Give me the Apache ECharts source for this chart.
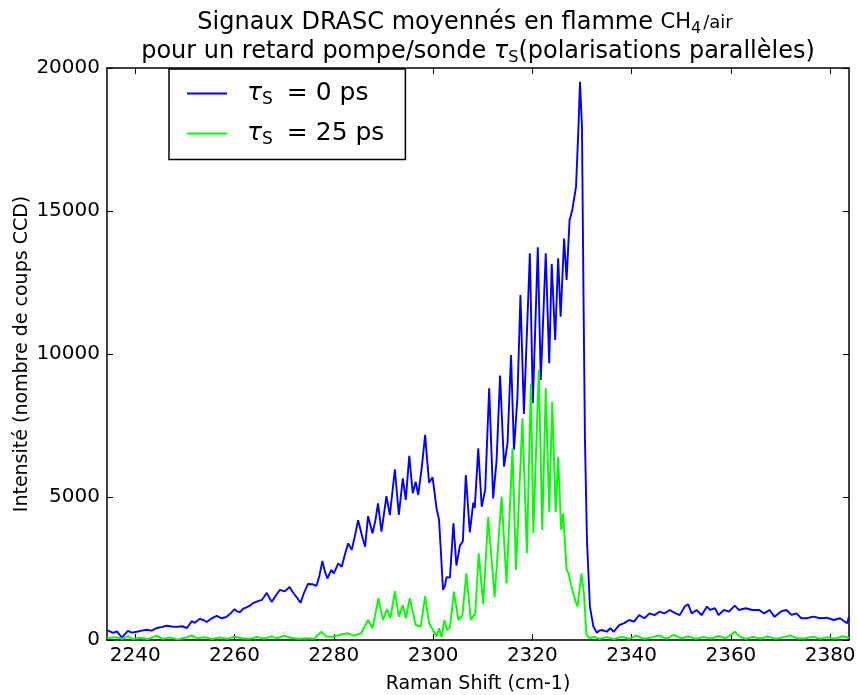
<!DOCTYPE html>
<html>
<head>
<meta charset="utf-8">
<script src="https://cdn.jsdelivr.net/npm/echarts@6/dist/echarts.min.js"></script>
<style>
html, body { margin: 0; padding: 0; background: #fff; }
#chart { width: 857px; height: 695px; }
</style>
</head>
<body>
<div id="chart"></div>
<script>
// Averaged CARS spectra in a CH4/air flame, two pump/probe delays.
const xTicks = [2240, 2260, 2280, 2300, 2320, 2340, 2360, 2380];
const yTicks = [0, 5000, 10000, 15000, 20000];

// tau_S = 0 ps : Raman shift (cm-1) and CCD counts
const shift0ps = [2234.3,2235.5,2236.3,2237.3,2238.5,2239.3,2240.3,2241.3,2242.3,2243.3,2244.3,2245.3,2246.3,2247.3,2248.3,2249.4,2250.4,2251.4,2252.0,2253.0,2253.7,2254.4,2255.4,2256.4,2257.4,2258.4,2259.2,2260.0,2260.5,2261.1,2261.8,2262.5,2263.1,2263.7,2264.6,2265.5,2266.0,2266.5,2267.0,2267.5,2268.3,2269.1,2270.1,2271.1,2271.7,2272.1,2272.7,2273.3,2274.0,2274.8,2275.7,2276.5,2277.1,2277.7,2278.2,2278.7,2279.5,2280.0,2280.9,2281.6,2282.2,2282.9,2283.6,2284.2,2284.9,2285.6,2286.3,2286.9,2287.8,2288.4,2288.9,2289.6,2290.6,2291.3,2292.3,2293.1,2293.9,2294.5,2295.2,2295.9,2296.5,2297.0,2297.7,2298.4,2298.8,2299.2,2299.9,2300.7,2301.2,2301.6,2302.0,2302.4,2302.7,2303.4,2304.1,2304.7,2305.4,2306.0,2306.6,2307.4,2308.1,2308.4,2309.1,2309.8,2310.5,2310.8,2311.3,2312.1,2312.8,2313.5,2314.3,2315.0,2315.7,2316.3,2317.0,2317.6,2318.3,2319.5,2320.1,2321.1,2321.7,2322.7,2323.4,2323.9,2324.6,2325.2,2325.7,2326.4,2326.9,2327.5,2327.7,2328.1,2328.4,2328.8,2329.3,2329.6,2330.0,2330.3,2330.6,2331.0,2331.6,2332.3,2333.0,2333.5,2334.0,2335.0,2335.7,2336.4,2337.5,2338.5,2339.5,2340.5,2341.5,2342.6,2343.6,2344.6,2345.6,2346.6,2347.7,2348.7,2349.7,2350.7,2351.4,2352.1,2353.1,2354.1,2355.2,2355.8,2356.8,2357.5,2358.6,2359.6,2360.8,2361.6,2363.0,2364.3,2365.7,2366.7,2367.8,2368.8,2370.1,2371.2,2372.2,2373.2,2374.2,2375.3,2376.6,2378.0,2379.3,2380.7,2382.0,2383.4,2383.8];
const counts0ps = [350,250,300,80,320,260,290,330,360,330,420,450,500,470,460,480,420,660,600,740,700,630,760,840,760,810,930,1080,1000,980,1100,1150,1200,1290,1350,1400,1520,1650,1480,1330,1550,1750,1700,1850,1680,1630,1450,1300,1650,1960,1950,1890,2250,2760,2400,2150,2450,2330,2680,2560,2970,3380,3150,3600,4190,3700,3260,4330,3730,4200,4780,3790,5030,4370,5970,4370,5650,4900,6440,5130,5530,5070,6000,7170,6300,5500,5690,4600,4200,3000,1750,1900,2200,2180,4080,2600,3300,3450,5770,3760,4800,4620,6700,4660,5250,5300,8800,4950,6300,9250,6060,6880,9960,6650,8500,12060,7900,13520,8280,13730,9090,13520,9680,13150,10490,13350,11300,14040,12590,14690,14800,15090,15150,15850,17950,19520,17950,12120,7000,3500,1170,470,250,330,350,290,410,290,520,590,700,640,870,760,930,870,990,930,1050,950,870,1170,1250,930,1050,870,1170,1050,1110,870,1050,990,1200,1050,1110,1050,1050,930,1050,810,1000,1050,880,930,760,760,815,760,780,700,760,585,815];

// tau_S = 25 ps : Raman shift (cm-1) and CCD counts
const shift25ps = [2234.3,2236.0,2237.5,2238.5,2239.5,2241.0,2242.5,2244.3,2245.5,2247.0,2248.5,2250.0,2251.4,2252.5,2254.0,2255.5,2257.0,2258.5,2260.0,2261.5,2263.0,2264.5,2266.0,2267.5,2268.5,2270.0,2271.5,2273.0,2274.5,2276.0,2277.5,2278.5,2280.0,2281.5,2282.9,2284.0,2285.5,2286.9,2287.8,2289.0,2289.9,2290.7,2291.4,2292.3,2293.1,2293.9,2294.5,2295.3,2296.5,2297.5,2298.4,2299.2,2299.9,2300.7,2301.2,2301.7,2302.3,2302.8,2303.4,2304.2,2305.1,2305.9,2306.7,2307.6,2308.5,2309.2,2310.1,2311.1,2312.4,2313.8,2314.8,2316.0,2316.7,2318.0,2318.9,2319.7,2320.2,2321.3,2322.0,2322.7,2323.4,2324.0,2324.7,2325.2,2325.8,2326.2,2326.9,2327.3,2327.9,2328.6,2329.1,2329.9,2330.4,2330.9,2331.6,2332.5,2333.5,2335.0,2336.5,2338.0,2339.5,2341.0,2342.5,2344.0,2345.5,2347.0,2348.5,2350.0,2351.5,2353.0,2354.5,2356.0,2357.5,2359.0,2360.8,2361.8,2363.0,2364.5,2366.0,2367.5,2369.0,2370.5,2372.0,2373.5,2375.0,2376.5,2378.0,2379.5,2381.0,2382.5,2383.8];
const counts25ps = [60,100,40,140,30,80,30,150,40,90,20,70,160,60,100,30,90,40,120,60,40,110,50,130,60,150,70,40,60,40,290,120,115,200,235,150,235,700,410,1460,700,1070,760,1710,815,1225,760,1460,525,465,1530,585,375,120,410,100,700,350,430,1690,700,850,2330,700,930,3030,1250,4310,1500,5010,1980,6700,2450,7750,3030,8970,3730,9440,3850,8800,4480,8330,4480,6410,3850,4430,2450,2330,1860,1400,1170,2330,1630,175,60,120,40,100,30,120,40,150,40,90,160,50,180,60,130,40,110,50,140,60,290,120,40,110,50,130,40,90,160,50,60,120,40,100,50,130,70];

const seriesNames = ['tau0', 'tau25'];
const legendText = { tau0: '= 0 ps', tau25: '= 25 ps' };

const FONT = 'DejaVu Sans';
const zip = (xs, ys) => xs.map((x, i) => [x, ys[i]]);

const titleRich = {
  t: { fontSize: 24, lineHeight: 28, fontWeight: 'normal', fontFamily: FONT, color: '#000' },
  m: { fontSize: 21, lineHeight: 28, fontWeight: 'normal', fontFamily: FONT, color: '#000' },
  small: { fontSize: 18, lineHeight: 28, fontWeight: 'normal', fontFamily: FONT, color: '#000', padding: [0, 0, 0, 2] },
  sub: { fontSize: 16, lineHeight: 14, verticalAlign: 'bottom', fontWeight: 'normal', fontFamily: FONT, color: '#000' },
  tau: { fontSize: 24, lineHeight: 28, fontStyle: 'italic', fontWeight: 'normal', fontFamily: FONT, color: '#000' }
};

const frameLine = { show: true, onZero: false, lineStyle: { color: '#000', width: 1.5 } };
const tickStyle = { show: true, inside: true, length: 6, lineStyle: { color: '#000', width: 1 } };
const plain = v => String(v);

const chart = echarts.init(document.getElementById('chart'), null, { renderer: 'canvas' });
chart.setOption({
  animation: false,
  backgroundColor: '#fff',
  title: [
    {
      text: '{t|Signaux DRASC moyennés en flamme }{m|CH}{sub|4}{small|/air}',
      left: 465, top: 9, textAlign: 'center', padding: 0,
      textStyle: { fontWeight: 'normal', rich: titleRich }
    },
    {
      text: '{t|pour un retard pompe/sonde }{tau|τ}{sub|S}{t|(polarisations parallèles)}',
      left: 478, top: 38, textAlign: 'center', padding: 0,
      textStyle: { fontWeight: 'normal', rich: titleRich }
    }
  ],
  legend: {
    data: seriesNames,
    orient: 'vertical',
    left: 169, top: 69,
    padding: [12, 21, 11, 18],
    itemGap: 12.5,
    itemWidth: 40, itemHeight: 2,
    icon: 'rect',
    borderColor: '#000', borderWidth: 1.5, borderRadius: 0,
    backgroundColor: '#fff',
    selectedMode: false,
    formatter: name => '{tau|τ}{sub|S}{t|' + legendText[name] + '}',
    textStyle: {
      rich: {
        tau: { fontSize: 25, lineHeight: 30, fontStyle: 'italic', fontFamily: FONT, color: '#000', padding: [0, 0, 0, 15] },
        sub: { fontSize: 17, lineHeight: 15, verticalAlign: 'bottom', fontFamily: FONT, color: '#000' },
        t: { fontSize: 25, lineHeight: 30, fontFamily: FONT, color: '#000', padding: [0, 0, 0, 14] }
      }
    }
  },
  grid: { left: 107, right: 8, top: 68, bottom: 55, containLabel: false, outerBoundsMode: 'none' },
  xAxis: [
    {
      type: 'value', position: 'bottom', min: 2234.3, max: 2383.8,
      name: 'Raman Shift (cm-1)', nameLocation: 'middle', nameGap: 35, nameMoveOverlap: false,
      nameTextStyle: { fontSize: 19, fontFamily: FONT, color: '#000' },
      axisLine: frameLine,
      axisTick: Object.assign({}, tickStyle, { customValues: xTicks }),
      axisLabel: { customValues: xTicks, formatter: plain, fontSize: 20, fontFamily: FONT, color: '#000', margin: 6 },
      splitLine: { show: false }
    },
    {
      type: 'value', position: 'top', min: 2234.3, max: 2383.8,
      axisLine: frameLine,
      axisTick: Object.assign({}, tickStyle, { customValues: xTicks }),
      axisLabel: { show: false },
      splitLine: { show: false }
    }
  ],
  yAxis: [
    {
      type: 'value', position: 'left', min: 0, max: 20000, interval: 5000,
      name: 'Intensité (nombre de coups CCD)', nameLocation: 'middle', nameGap: 75, nameMoveOverlap: false,
      nameTextStyle: { fontSize: 19, fontFamily: FONT, color: '#000' },
      axisLine: frameLine,
      axisTick: tickStyle,
      axisLabel: { formatter: plain, fontSize: 20, fontFamily: FONT, color: '#000', margin: 7 },
      splitLine: { show: false }
    },
    {
      type: 'value', position: 'right', min: 0, max: 20000, interval: 5000,
      axisLine: frameLine,
      axisTick: tickStyle,
      axisLabel: { show: false },
      splitLine: { show: false }
    }
  ],
  series: [
    {
      name: 'tau0', type: 'line', xAxisIndex: 0, yAxisIndex: 0,
      data: zip(shift0ps, counts0ps),
      showSymbol: false, symbol: 'none', clip: true,
      color: '#0000ff',
      lineStyle: { color: '#0000ff', width: 1.9 }
    },
    {
      name: 'tau25', type: 'line', xAxisIndex: 0, yAxisIndex: 0,
      data: zip(shift25ps, counts25ps),
      showSymbol: false, symbol: 'none', clip: true,
      color: '#00ff00',
      lineStyle: { color: '#00ff00', width: 1.9 }
    }
  ]
});
</script>
</body>
</html>
